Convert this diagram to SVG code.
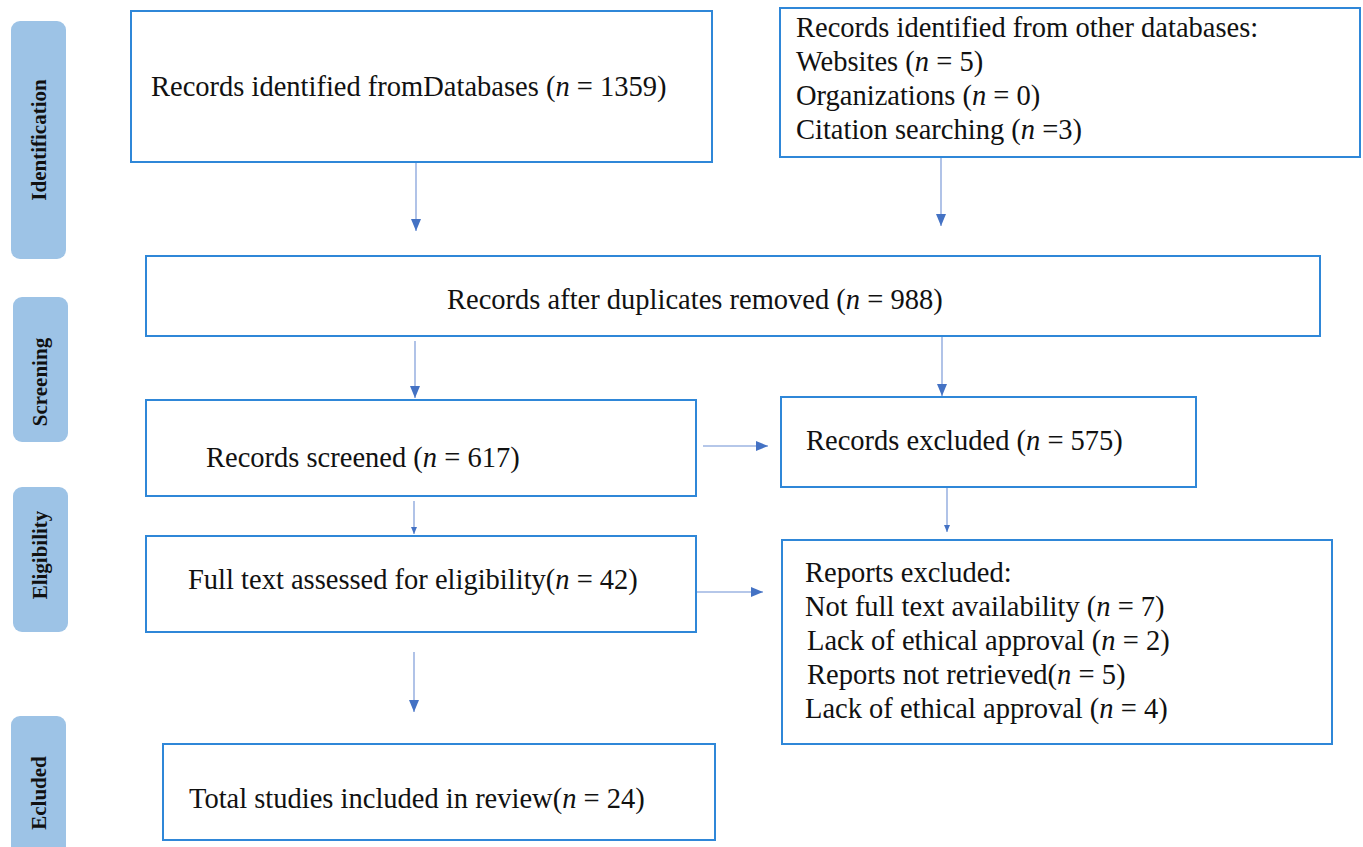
<svg xmlns="http://www.w3.org/2000/svg" width="1363" height="847" viewBox="0 0 1363 847">
<style>
.box{fill:#ffffff;stroke:#2f87d8;stroke-width:2}
.phase{fill:#9dc3e6;stroke:none}
.t{font-size:28.5px;fill:#111111}
.ph{font-size:21px;font-weight:bold;fill:#111111;text-anchor:middle}
.c{fill:none;stroke:#9db4e2;stroke-width:1.6}
</style>
<defs>
<marker id="ah" markerUnits="userSpaceOnUse" markerWidth="12" markerHeight="10" refX="12" refY="5" orient="auto" viewBox="0 0 12 10">
<path d="M0,0 L12,5 L0,10 z" fill="#4472c4"/>
</marker>
<marker id="ahs" markerUnits="userSpaceOnUse" markerWidth="7" markerHeight="6" refX="7" refY="3" orient="auto" viewBox="0 0 7 6">
<path d="M0,0 L7,3 L0,6 z" fill="#4472c4"/>
</marker>
</defs>
<rect width="1363" height="847" fill="#ffffff"/>
<g font-family="'Liberation Serif', 'Times New Roman', Times, serif">
<g id="phase-identification"><rect class="phase" x="11" y="21" width="55" height="238" rx="9"/><text class="ph" transform="translate(45.5,140) rotate(-90)">Identification</text></g>
<g id="phase-screening"><rect class="phase" x="13" y="297" width="55" height="145" rx="9"/><text class="ph" transform="translate(46.5,382) rotate(-90)">Screening</text></g>
<g id="phase-eligibility"><rect class="phase" x="13" y="487" width="55" height="145" rx="9"/><text class="ph" transform="translate(46.5,555) rotate(-90)">Eligibility</text></g>
<g id="phase-included"><rect class="phase" x="11" y="716" width="55" height="150" rx="9"/><text class="ph" transform="translate(45.5,793) rotate(-90)">Ecluded</text></g>

<g id="connectors">
<line class="c" x1="416" y1="163" x2="416" y2="231" marker-end="url(#ah)"/>
<line class="c" x1="941" y1="158" x2="941" y2="226" marker-end="url(#ah)"/>
<line class="c" x1="415" y1="341" x2="415" y2="398" marker-end="url(#ah)"/>
<line class="c" x1="942" y1="337" x2="942" y2="396" marker-end="url(#ah)"/>
<line class="c" x1="414" y1="501" x2="414" y2="534" marker-end="url(#ahs)"/>
<line class="c" x1="947" y1="488" x2="947" y2="532" marker-end="url(#ahs)"/>
<line class="c" x1="703" y1="446" x2="768" y2="446" marker-end="url(#ah)"/>
<line class="c" x1="697" y1="592" x2="763" y2="592" marker-end="url(#ah)"/>
<line class="c" x1="414" y1="652" x2="414" y2="712" marker-end="url(#ah)"/>
</g>

<g id="n-databases"><rect class="box" x="131" y="11" width="581" height="151"/><text class="t" x="151" y="96">Records identified from<tspan>Databases (</tspan><tspan font-style="italic">n</tspan> = 1359)</text></g>
<g id="n-other"><rect class="box" x="780" y="8" width="580" height="149"/>
<text class="t" x="796" y="37">Records identified from other databases:</text>
<text class="t" x="796" y="71">Websites (<tspan font-style="italic">n</tspan> = 5)</text>
<text class="t" x="796" y="105">Organizations (<tspan font-style="italic">n</tspan> = 0)</text>
<text class="t" x="796" y="139">Citation searching (<tspan font-style="italic">n</tspan> =3)</text></g>
<g id="n-duplicates"><rect class="box" x="146" y="256" width="1174" height="80"/><text class="t" x="447" y="309">Records after duplicates removed (<tspan font-style="italic">n</tspan> = 988)</text></g>
<g id="n-screened"><rect class="box" x="146" y="400" width="550" height="96"/><text class="t" x="206" y="467">Records screened (<tspan font-style="italic">n</tspan> = 617)</text></g>
<g id="n-excluded"><rect class="box" x="781" y="397" width="415" height="90"/><text class="t" x="806" y="450">Records excluded (<tspan font-style="italic">n</tspan> = 575)</text></g>
<g id="n-fulltext"><rect class="box" x="146" y="536" width="550" height="96"/><text class="t" x="188" y="589">Full text assessed for eligibility(<tspan font-style="italic">n</tspan> = 42)</text></g>
<g id="n-reports"><rect class="box" x="782" y="540" width="550" height="204"/>
<text class="t" x="805" y="582">Reports excluded:</text>
<text class="t" x="805" y="616">Not full text availability (<tspan font-style="italic">n</tspan> = 7)</text>
<text class="t" x="807" y="650">Lack of ethical approval (<tspan font-style="italic">n</tspan> = 2)</text>
<text class="t" x="807" y="684">Reports not retrieved(<tspan font-style="italic">n</tspan> = 5)</text>
<text class="t" x="805" y="718">Lack of ethical approval (<tspan font-style="italic">n</tspan> = 4)</text></g>
<g id="n-included"><rect class="box" x="163" y="744" width="552" height="96"/><text class="t" x="189" y="808">Total studies included in review(<tspan font-style="italic">n</tspan> = 24)</text></g>
</g>
</svg>
